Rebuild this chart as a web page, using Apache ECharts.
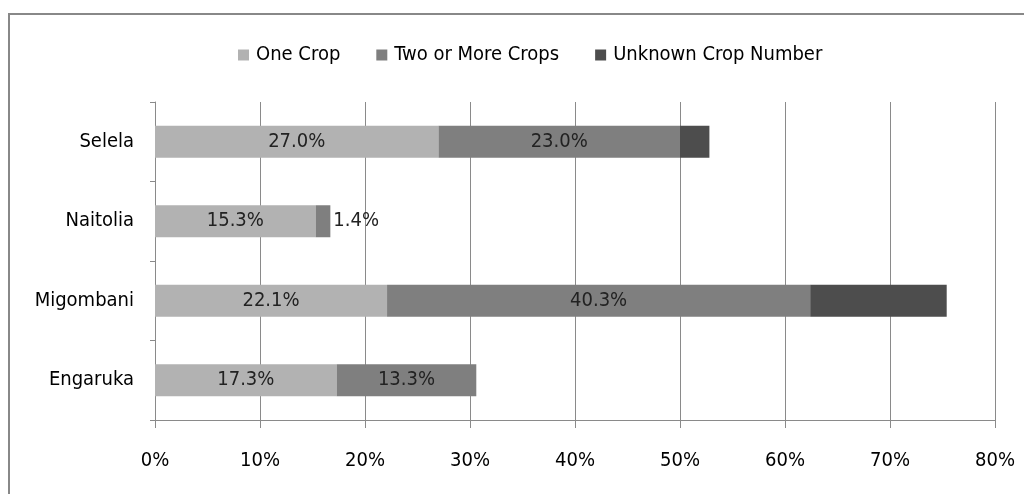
<!DOCTYPE html>
<html>
<head>
<meta charset="utf-8">
<script src="https://cdn.jsdelivr.net/npm/echarts@6/dist/echarts.min.js"></script>
<style>
html,body{margin:0;padding:0;background:#fff;}
#c{width:1024px;height:494px;}
</style>
</head>
<body>
<div id="c"></div>
<script>
var categories = ['Engaruka', 'Migombani', 'Naitolia', 'Selela'];
var oneCrop = [17.3, 22.1, 15.3, 27.0];
var twoOrMore = [13.3, 40.3, 1.4, 23.0];
var unknownCrop = [0, 13.0, 0, 2.8];
var xTicks = [0, 10, 20, 30, 40, 50, 60, 70, 80];
var seriesNames = ['One Crop', 'Two or More Crops', 'Unknown Crop Number'];

var FONT = '"DejaVu Sans Condensed", "Liberation Sans Narrow", "Liberation Sans", Arial, sans-serif';
var chart = echarts.init(document.getElementById('c'), null, {renderer: 'canvas'});

function labelFmt(p) { return p.value ? p.value.toFixed(1) + '%' : ''; }

var option = {
  backgroundColor: '#ffffff',
  animation: false,
  graphic: [{
    type: 'rect',
    shape: {x: 9, y: 14, width: 1040, height: 500},
    style: {fill: 'none', stroke: '#888888', lineWidth: 2},
    silent: true
  }],
  legend: {
    left: 233,
    top: 40,
    itemWidth: 11,
    itemHeight: 11,
    itemGap: 36,
    icon: 'rect',
    textStyle: {fontFamily: FONT, fontSize: 20, color: '#000', padding: [0, 0, 0, 2]},
    data: seriesNames
  },
  grid: {left: 155, right: 29, top: 102, bottom: 74, containLabel: false},
  xAxis: {
    type: 'value',
    min: xTicks[0],
    max: xTicks[xTicks.length - 1],
    interval: xTicks[1] - xTicks[0],
    axisLine: {show: true, lineStyle: {color: '#8a8a8a', width: 1}},
    axisTick: {show: true, length: 8, lineStyle: {color: '#8a8a8a'}},
    axisLabel: {formatter: '{value}%', fontFamily: FONT, fontSize: 20, color: '#000', margin: 31},
    splitLine: {show: true, lineStyle: {color: '#8a8a8a', width: 1}}
  },
  yAxis: {
    type: 'category',
    data: categories,
    axisLine: {show: true, lineStyle: {color: '#8a8a8a', width: 1}},
    axisTick: {show: true, length: 5, alignWithLabel: false, lineStyle: {color: '#8a8a8a'}},
    axisLabel: {fontFamily: FONT, fontSize: 20, color: '#000', margin: 21},
    splitLine: {show: false}
  },
  series: [
    {
      name: seriesNames[0], type: 'bar', stack: 'total', barWidth: 32,
      data: oneCrop,
      itemStyle: {color: '#b2b2b2'},
      label: {show: true, position: 'inside', formatter: labelFmt, fontFamily: FONT, fontSize: 20, color: '#222'}
    },
    {
      name: seriesNames[1], type: 'bar', stack: 'total', barWidth: 32,
      data: twoOrMore.map(function (v, i) {
        return i === 2 ? {value: v, label: {position: 'right', distance: 3}} : v;
      }),
      itemStyle: {color: '#7f7f7f'},
      label: {show: true, position: 'inside', formatter: labelFmt, fontFamily: FONT, fontSize: 20, color: '#222'}
    },
    {
      name: seriesNames[2], type: 'bar', stack: 'total', barWidth: 32,
      data: unknownCrop,
      itemStyle: {color: '#4d4d4d'},
      label: {show: false}
    }
  ]
};
chart.setOption(option);
</script>
</body>
</html>
